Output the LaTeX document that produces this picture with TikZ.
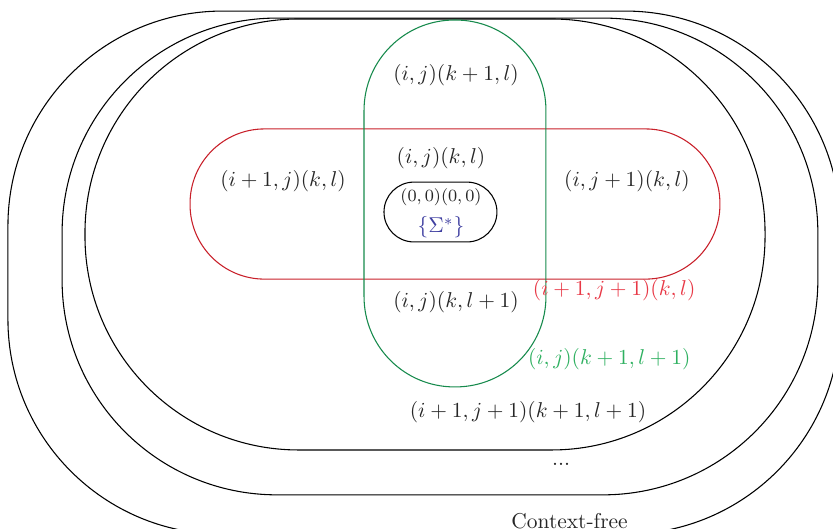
\documentclass[tikz,border=0pt]{standalone}
\usepackage{amsfonts}
\usepackage{xcolor}
\usepackage{tikz}

\definecolor{rowred}{RGB}{200,32,42}
\definecolor{rowredtext}{RGB}{232,56,70}
\definecolor{colgreen}{RGB}{22,138,76}
\definecolor{colgreentext}{RGB}{46,176,96}
\definecolor{sigmablue}{RGB}{62,62,160}

\begin{document}
\begin{tikzpicture}[
    set/.style={rectangle, draw, inner sep=0pt, line width=0.5pt},
    lbl/.style={text=black!85, inner sep=1pt}
]
\clip (0,0) rectangle (13.645,-8.665);

% nested levels
\node [set, rounded corners=3.52cm, minimum width=13.63cm, minimum height=8.57cm] (cfree) at (6.945,-4.466) {};
\node [set, rounded corners=3.52cm, minimum width=12.38cm, minimum height=7.81cm] (dots) at (7.207,-4.201) {};
\node [set, rounded corners=3.50cm, minimum width=11.14cm, minimum height=7.06cm] (allplus) at (6.962,-3.841) {};

% row and column
\node [set, draw=rowred, rounded corners=1.22cm, minimum width=8.68cm, minimum height=2.46cm] (row) at (7.453,-3.342) {};
\node [set, draw=colgreen, rounded corners=1.48cm, minimum width=2.98cm, minimum height=6.01cm] (col) at (7.453,-3.333) {};
\node [set, rounded corners=0.49cm, minimum width=1.85cm, minimum height=0.98cm] (core) at (7.215,-3.473) {};

% labels
\node [lbl] (colup) at (7.47,-1.229) {$(i,j)(k+1,l)$};
\node [lbl] (centre) at (7.224,-2.588) {$(i,j)(k,l)$};
\node [lbl] (rowleft) at (4.636,-2.965) {$(i+1,j)(k,l)$};
\node [lbl] (rowright) at (10.27,-2.965) {$(i,j+1)(k,l)$};
\node [lbl, font=\footnotesize] (zero) at (7.224,-3.235) {$(0,0)(0,0)$};
\node [lbl, text=sigmablue] (sigma) at (7.224,-3.726) {$\{\Sigma^*\}$};
\node [lbl, text=rowredtext] (rowboth) at (10.06,-4.75) {$(i+1,j+1)(k,l)$};
\node [lbl] (coldown) at (7.47,-4.947) {$(i,j)(k,l+1)$};
\node [lbl, text=colgreentext] (colboth) at (9.98,-5.88) {$(i,j)(k+1,l+1)$};
\node [lbl] (allboth) at (8.65,-6.75) {$(i+1,j+1)(k+1,l+1)$};
\node [lbl] (more) at (9.19,-7.60) {...};
\node [lbl] (cflabel) at (9.33,-8.53) {Context-free};

\end{tikzpicture}
\end{document}
